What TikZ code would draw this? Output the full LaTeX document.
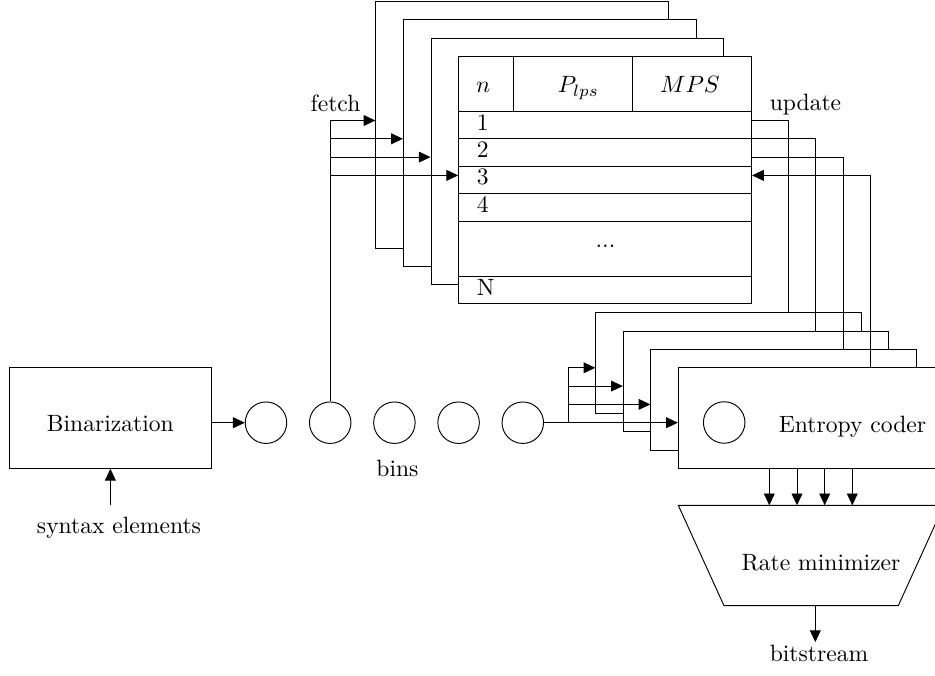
\documentclass[tikz,border=0pt]{standalone}
\usetikzlibrary{arrows.meta}

\tikzset{
  tabl/.style={draw, fill=white, minimum width=124.2pt, minimum height=104.5pt, inner sep=0pt},
  coder/.style={draw, fill=white, minimum width=112.6pt, minimum height=42.65pt, inner sep=0pt},
  bin/.style={draw, circle, minimum size=17.6pt, inner sep=0pt},
  rowlab/.style={anchor=west, inner sep=0pt}
}

\begin{document}
\begin{tikzpicture}[x=0.424pt, y=-0.424pt, >={Triangle[length=5pt, width=4.6pt]}]
        \useasboundingbox (0,0) rectangle (935,676);

        % Binarization
        \node[draw, minimum width=85.65pt, minimum height=42.8pt] (binz) at (110.4,417.8) {};
        \node (binzlab) at (110.4,424) {Binarization};
        \node[inner sep=5pt] (syn) at (119,527.4) {syntax elements};
        \draw[->] (binz.south |- syn.north) -- (binz.south);

        % Bins
        \node[bin] (b1) at (266,422.7) {};
        \node[bin] (b2) at (330.2,422.7) {};
        \node[bin] (b3) at (394.4,422.7) {};
        \node[bin] (b4) at (458.6,422.7) {};
        \node[bin] (b5) at (522.8,422.7) {};
        \node (bins) at (397.5,468.5) {bins};
        \draw[->] (binz.east |- b1.west) -- (b1.west);
        \coordinate (split) at (568.7,422.7);

        % Layer A
        \node[tabl] (tA) at (522.3,124.9) {};
        \node[coder] (cA) at (728.6,363.1) {};
        \draw[->] (b2.north) |- (tA.west |- 0,120.5);
        \draw[->] (cA.north -| 788.1,0) |- (tA.east |- 0,120.5);
        \draw[->] (b5.east) -- (split) |- (cA.west |- 0,367.8);

        % Layer B
        \node[tabl] (tB) at (549.9,143.2) {};
        \node[coder] (cB) at (756.1,381.4) {};
        \draw[->] (b2.north |- 0,138.8) -- (tB.west |- 0,138.8);
        \draw[->] (cB.north -| 815.6,0) |- (tB.east |- 0,138.8);
        \draw[->] (split |- 0,386.1) -- (cB.west |- 0,386.1);

        % Layer C
        \node[tabl] (tC) at (577.5,161.5) {};
        \node[coder] (cC) at (783.6,399.7) {};
        \draw[->] (b2.north |- 0,157.1) -- (tC.west |- 0,157.1);
        \draw[->] (cC.north -| 843.1,0) |- (tC.east |- 0,157.1);
        \draw[->] (split |- 0,404.4) -- (cC.west |- 0,404.4);

        % Layer D (front)
        \node[tabl] (tD) at (605.1,179.8) {};
        \node[coder] (cD) at (811.1,418) {};
        \draw[->] (b2.north |- 0,175.4) -- (tD.west |- 0,175.4);
        \draw[->] (cD.north -| 870.6,0) |- (tD.east |- 0,175.4);
        \draw[->] (split) -- (cD.west |- 0,422.7);

        % Context table
        \draw (tD.west |- 0,111) -- (tD.east |- 0,111);
        \draw (tD.west |- 0,138.5) -- (tD.east |- 0,138.5);
        \draw (tD.west |- 0,166) -- (tD.east |- 0,166);
        \draw (tD.west |- 0,193.3) -- (tD.east |- 0,193.3);
        \draw (tD.west |- 0,221) -- (tD.east |- 0,221);
        \draw (tD.west |- 0,276.3) -- (tD.east |- 0,276.3);
        \draw (tD.north -| 513.3,0) -- (513.3,111);
        \draw (tD.north -| 632.3,0) -- (632.3,111);
        \node (hn) at (483.3,87.5) {$n$};
        \node (hp) at (578.5,88) {$P_{lps}$};
        \node (hm) at (690,84.7) {$MPS$};
        \node[rowlab] (r1) at (476.5,122.5) {1};
        \node[rowlab] (r2) at (476.5,149.4) {2};
        \node[rowlab] (r3) at (476.5,177.3) {3};
        \node[rowlab] (r4) at (476.5,204.9) {4};
        \node (rdots) at (605.5,246.5) {...};
        \node[rowlab] (rN) at (476.5,287.5) {N};

        % Labels for the loops
        \node (fetch) at (335.5,103.5) {fetch};
        \node (update) at (805.5,104.2) {update};

        % Entropy coder
        \node[bin] (cbin) at (724.2,422.5) {};
        \node (coderlab) at (852.5,426.5) {Entropy coder};

        % Rate minimizer
        \coordinate (rtl) at (678.3,505.3);
        \coordinate (rtr) at (943.9,505.3);
        \coordinate (rbr) at (898.3,605.7);
        \coordinate (rbl) at (724,605.7);
        \draw (rtl) -- (rtr) -- (rbr) -- (rbl) -- cycle;
        \node (rate) at (821,562.6) {Rate minimizer};
        \draw[->] (cD.south -| 769.3,0) -- (rtl -| 769.3,0);
        \draw[->] (cD.south -| 797,0) -- (rtl -| 797,0);
        \draw[->] (cD.south -| 824.7,0) -- (rtl -| 824.7,0);
        \draw[->] (cD.south -| 852.3,0) -- (rtl -| 852.3,0);

        % Output
        \coordinate (rbot) at (815.3,605.7);
        \node[inner sep=1.1pt] (bits) at (819,653.5) {bitstream};
        \draw[->] (rbot) -- (rbot |- bits.north);
\end{tikzpicture}
\end{document}
